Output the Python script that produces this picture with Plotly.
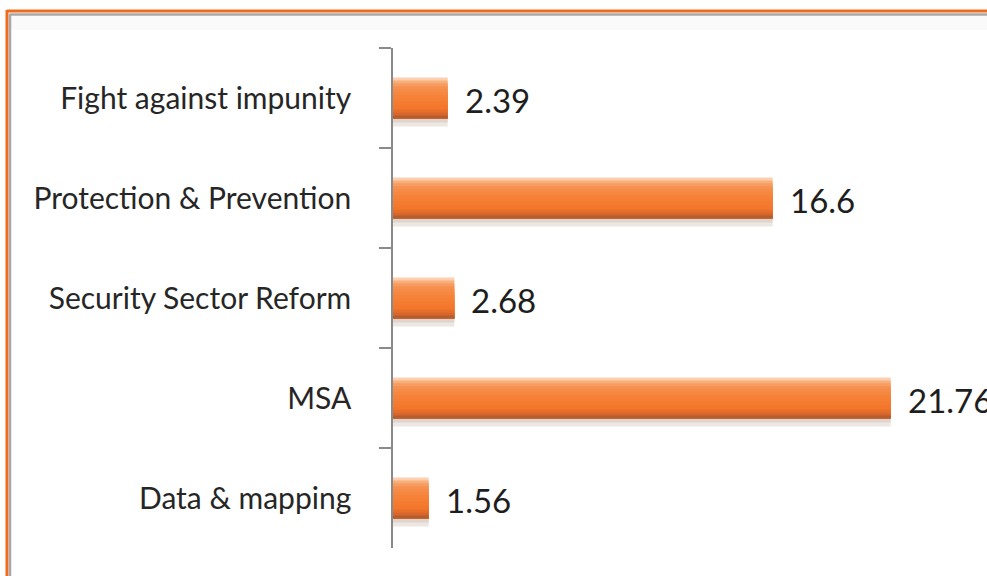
import plotly.graph_objects as go

# Funding by programme area
categories = [
    "Fight against impunity",
    "Protection & Prevention",
    "Security Sector Reform",
    "MSA",
    "Data & mapping",
]
values = [2.39, 16.6, 2.68, 21.76, 1.56]
value_labels = ["2.39", "16.6", "2.68", "21.76", "1.56"]

# Page geometry (pixels)
W, H = 987, 576
ML, MR, MT, MB = 393, 0, 48, 28
PW, PH = W - ML - MR, H - MT - MB
PX_PER_UNIT = 22.87
X_MAX = PW / PX_PER_UNIT

BAR_W = 0.41
# colour stops down the height of a bar (fraction from top, rgb)
stops = [
    (0.00, (253, 228, 208)),
    (0.08, (249, 182, 134)),
    (0.22, (246, 146, 82)),
    (0.45, (245, 131, 57)),
    (0.75, (243, 118, 42)),
    (0.88, (220, 104, 43)),
    (1.00, (165, 88, 48)),
]
N_BANDS = 14


def colour_at(f):
    for (a, ca), (b, cb) in zip(stops[:-1], stops[1:]):
        if a <= f <= b:
            t = (f - a) / (b - a) if b > a else 0
            r, g, bl = (round(ca[i] + (cb[i] - ca[i]) * t) for i in range(3))
            return f"rgb({r},{g},{bl})"
    return "rgb(%d,%d,%d)" % stops[-1][1]


fig = go.Figure()

# soft drop shadow under each bar
for dy, col in [(0.10, "#ece7e2"), (0.06, "#ddd5ce")]:
    fig.add_trace(go.Bar(
        y=categories, x=values, orientation="h",
        width=dy, offset=BAR_W / 2 - 0.02,
        marker=dict(color=col, line=dict(width=0)),
        hoverinfo="skip", showlegend=False,
    ))

# shaded bar: each band runs from its own top edge to the bar bottom,
# later bands painted over earlier ones so no seams show
for i in range(N_BANDS):
    f0 = i / N_BANDS
    f_mid = (i + 0.5) / N_BANDS
    fig.add_trace(go.Bar(
        y=categories, x=values, orientation="h",
        width=BAR_W * (1 - f0),
        offset=-BAR_W / 2 + BAR_W * f0,
        marker=dict(color=colour_at(f_mid), line=dict(width=0)),
        hoverinfo="skip", showlegend=False,
    ))

# value labels at the end of each bar
for cat, val, lab in zip(categories, values, value_labels):
    fig.add_annotation(
        x=val, y=cat, text=lab, showarrow=False,
        xanchor="left", yanchor="middle", xshift=15, yshift=-2,
        font=dict(family="Lato", size=33, color="#1e1e1e"),
    )


def px_x(x):
    return (x - ML) / PW


def px_y(y):
    return (MT + PH - y) / PH


# outer frame: orange rule with a thin grey rule inside it
frame = [
    dict(x0=px_x(7), x1=px_x(W + 5), y0=px_y(11), y1=px_y(11), color="#f26b1d", w=3),
    dict(x0=px_x(7), x1=px_x(7), y0=px_y(10), y1=px_y(H + 5), color="#f26b1d", w=3),
    dict(x0=px_x(10), x1=px_x(W + 5), y0=px_y(14.5), y1=px_y(14.5), color="#a8a8a8", w=2.5),
    dict(x0=px_x(10), x1=px_x(10), y0=px_y(14), y1=px_y(H + 5), color="#a8a8a8", w=2.5),
]
for s in frame:
    fig.add_shape(
        type="line", xref="paper", yref="paper",
        x0=s["x0"], x1=s["x1"], y0=s["y0"], y1=s["y1"],
        line=dict(color=s["color"], width=s["w"]), layer="above",
    )
# faint grey haze just inside the top rule
fig.add_shape(
    type="rect", xref="paper", yref="paper",
    x0=px_x(11), x1=px_x(W + 5), y0=px_y(30), y1=px_y(16),
    fillcolor="rgba(0,0,0,0.018)", line=dict(width=0), layer="below",
)

fig.update_layout(
    width=W, height=H,
    margin=dict(l=ML, r=MR, t=MT, b=MB, pad=0),
    barmode="overlay",
    paper_bgcolor="white", plot_bgcolor="white",
    showlegend=False,
    xaxis=dict(visible=False, range=[0, X_MAX], fixedrange=True),
    yaxis=dict(
        type="category",
        categoryorder="array", categoryarray=categories,
        range=[len(categories) - 0.5, -0.5],
        showline=True, linecolor="#8a8a8a", linewidth=1.5,
        ticks="outside", tickson="boundaries", ticklen=12,
        tickcolor="#8a8a8a", tickwidth=1.5,
        ticklabelstandoff=34,
        showgrid=False, zeroline=False,
        tickfont=dict(family="Lato", size=30, color="#262626"),
    ),
)

fig.write_html("out.html")
